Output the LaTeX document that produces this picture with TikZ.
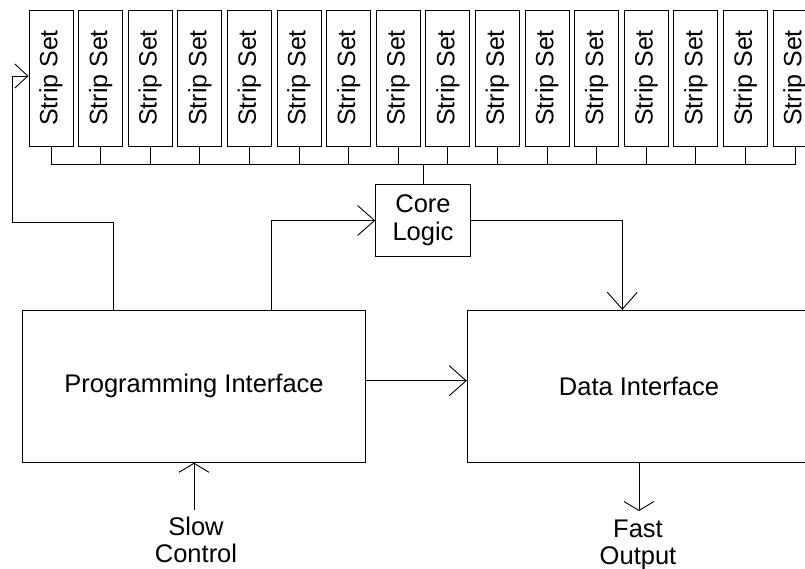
\documentclass[tikz,border=0pt]{standalone}
\usepackage{fontspec}
\setmainfont{Liberation Sans}
\usetikzlibrary{arrows.meta,calc}
\begin{document}
\begin{tikzpicture}[x=1pt,y=-1pt, line width=0.9pt,
  box/.style={draw, inner sep=0pt, align=center, font=\fontsize{25.5}{28}\selectfont},
  strip/.style={draw, inner sep=0pt, minimum width=44pt, minimum height=136pt, font=\fontsize{25}{28}\selectfont},
  lbl/.style={inner sep=0pt, align=center, font=\fontsize{25.5}{27}\selectfont},
  arr/.style={-{Straight Barb[length=17pt,width=30pt]}},
  arrs/.style={-{Straight Barb[length=9pt,width=30pt]}},
  arrt/.style={-{Straight Barb[length=13pt,width=24pt]}},
]
\useasboundingbox (0,0) rectangle (805,568);
\clip (0,0) rectangle (805,568);
\coordinate (busy) at (0,164.7);
\foreach \i in {0,...,15} {
  \node[strip] (s\i) at ({51+49.6*\i},78) {\rotatebox{90}{Strip Set}};
  \draw (s\i.south) -- (s\i.south |- busy);
}
\draw (s0.south |- busy) -- (s15.south |- busy);
\node[box, minimum width=94.6pt, minimum height=72pt] (core) at (423,220.5) {Core\\Logic};
\draw (core.north) -- (core.north |- busy);
\node[box, minimum width=343.4pt, minimum height=152pt] (prog) at (194,386.3) {Programming Interface};
\node[box, minimum width=343.4pt, minimum height=152pt] (data) at (639,386.3) {Data Interface};
\coordinate (pa) at (113,0);
\coordinate (pb) at (271.7,0);
\coordinate (lx) at (12,222);
\coordinate (dx) at (622.3,0);
\coordinate (sc) at (0,510);
\coordinate (fc) at (0,511);
\draw[arrt] (prog.north -| pa) |- (lx) |- ([yshift=2pt]s0.west);
\draw[arr] (prog.north -| pb) |- (core.west);
\draw[arr] (core.east) -| (data.north -| dx);
\draw[arr] ([yshift=5.6pt]prog.east) -- ([yshift=5.6pt]data.west);
\node[lbl, anchor=north] (slow) at (196,517) {Slow\\Control};
\node[lbl, anchor=north] (fast) at (638,519) {Fast\\Output};
\draw[arrs] (prog.south |- sc) -- (prog.south);
\draw[arrs] (data.south) -- (data.south |- fc);
\end{tikzpicture}
\end{document}
